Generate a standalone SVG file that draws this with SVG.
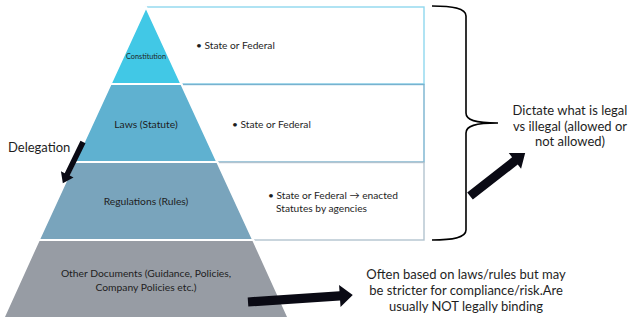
<svg xmlns="http://www.w3.org/2000/svg" width="638" height="333" viewBox="0 0 638 333">
<style>
text{font-family:Lato,"Open Sans","Liberation Sans",sans-serif;fill:#1e1e1e}
.lvl{font-size:10.3px;text-anchor:middle}
.bul{font-size:10.2px}
.big{font-size:13px}
.ctr{text-anchor:middle}
.band{stroke:#ffffff;stroke-width:2}
.box{fill:#ffffff;stroke-width:1.4}
.arr{fill:#0a0a14}
</style>
<rect width="638" height="333" fill="#ffffff"/>
<g id="boxes">
<rect class="box" x="146" y="7" width="278" height="77" stroke="#8fd8ee"/>
<rect class="box" x="146" y="84.5" width="278" height="77.5" stroke="#78b2cf"/>
<rect class="box" x="146" y="162.5" width="278" height="77.5" stroke="#b2c3cf"/>
</g>
<g id="constitution">
<polygon class="band" points="146,7 181.4,84 110.6,84" fill="#41c8e6"/>
<text class="lvl" x="146" y="59" style="font-size:7.3px">Constitution</text>
</g>
<g id="laws">
<polygon class="band" points="110.6,84 181.4,84 217.3,162 74.7,162" fill="#5fb1d0"/>
<text class="lvl" x="146" y="128">Laws (Statute)</text>
</g>
<g id="regulations">
<polygon class="band" points="74.7,162 217.3,162 253.2,240 38.8,240" fill="#79a4bc"/>
<text class="lvl" x="146" y="205">Regulations (Rules)</text>
</g>
<g id="other-documents">
<polygon class="band" points="38.8,240 253.2,240 288.6,318 3.4,318" fill="#979ca4"/>
<text class="lvl" x="146" y="277">Other Documents (Guidance, Policies,</text>
<text class="lvl" x="146" y="291">Company Policies etc.)</text>
</g>
<g id="bullets">
<text class="bul" x="196" y="49">•  State or Federal</text>
<text class="bul" x="232" y="128">•  State or Federal</text>
<text class="bul" x="268" y="199">•  State or Federal → enacted</text>
<text class="bul" x="276" y="212">Statutes by agencies</text>
</g>
<g id="labels">
<text class="big" x="8" y="152">Delegation</text>
<text class="big ctr" x="570" y="115">Dictate what is legal</text>
<text class="big ctr" x="570" y="131">vs illegal (allowed or</text>
<text class="big ctr" x="570" y="146">not allowed)</text>
<text class="big ctr" x="466" y="279">Often based on laws/rules but may</text>
<text class="big ctr" x="466" y="295">be stricter for compliance/risk.Are</text>
<text class="big ctr" x="466" y="311">usually NOT legally binding</text>
</g>
<g id="connectors">
<path d="M432,6 C452,6 466,8 466,16 L466,113 C466,120 475,123 498,123 C475,123 466,126 466,133 L466,230 C466,238 452,240 432,240" fill="none" stroke="#000" stroke-width="1.6"/>
<polygon class="arr" transform="translate(83,142) rotate(116)" points="0,-2.8 36,-2.8 36,-7 46,0 36,7 36,2.8 0,2.8"/>
<polygon class="arr" transform="translate(470,196) rotate(-38)" points="0,-4.6 57,-4.6 57,-10 70,0 57,10 57,4.6 0,4.6"/>
<polygon class="arr" transform="translate(248,302) rotate(-3.8)" points="0,-4.6 92,-4.6 92,-11 105,0 92,11 92,4.6 0,4.6"/>
</g>
</svg>
